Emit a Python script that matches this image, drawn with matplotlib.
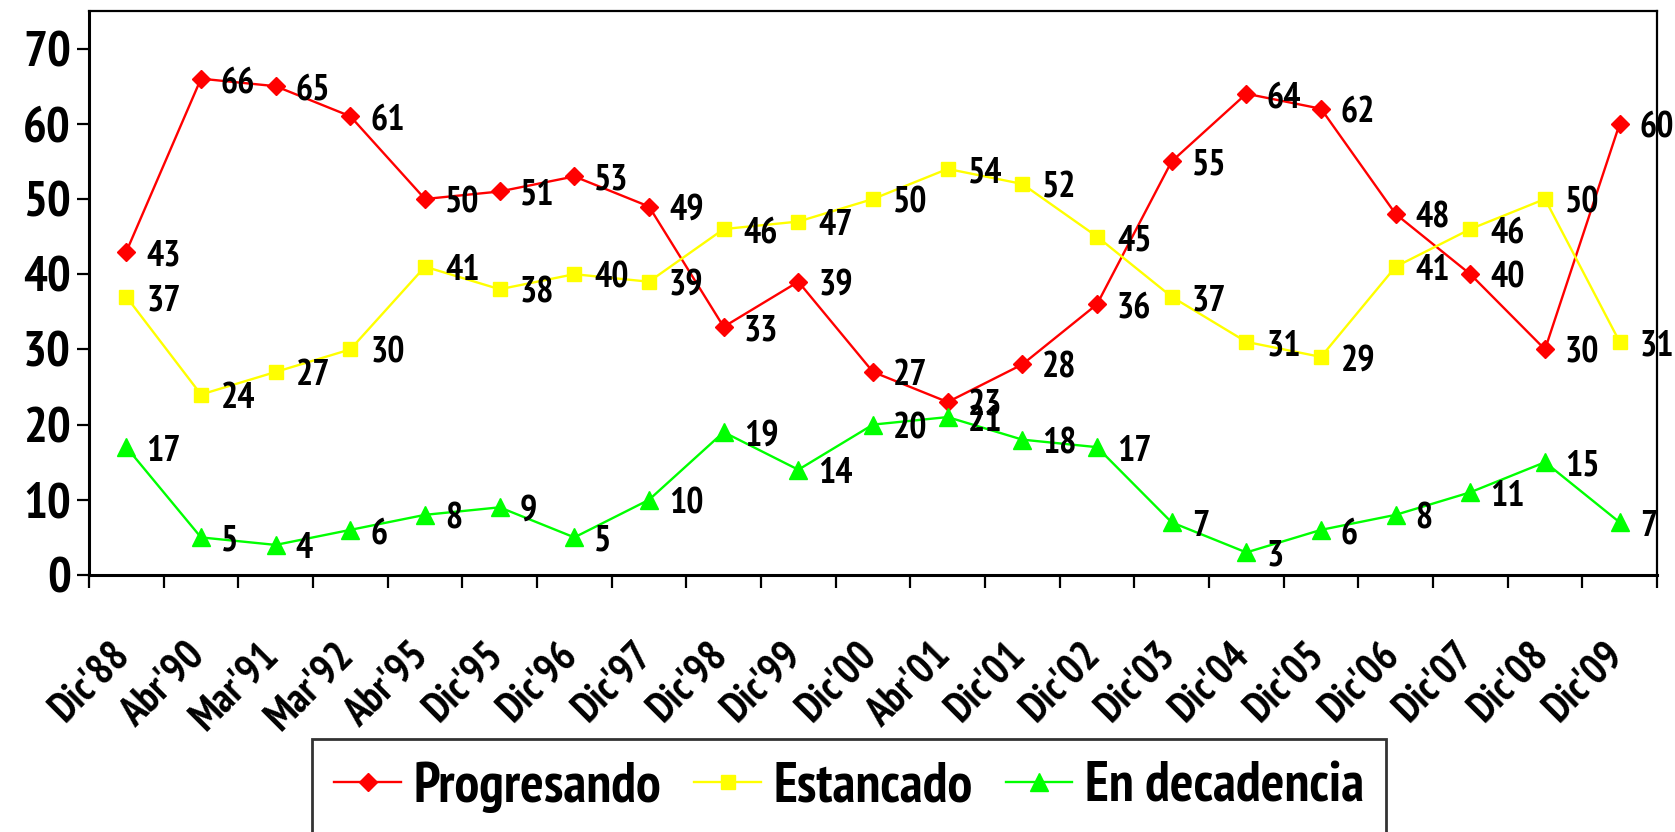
import matplotlib
matplotlib.use("Agg")
import matplotlib.pyplot as plt
from matplotlib import font_manager as fm
from matplotlib.transforms import ScaledTranslation
import numpy as np

categories = ["Dic'88", "Abr'90", "Mar'91", "Mar'92", "Abr'95", "Dic'95", "Dic'96",
              "Dic'97", "Dic'98", "Dic'99", "Dic'00", "Abr'01", "Dic'01", "Dic'02",
              "Dic'03", "Dic'04", "Dic'05", "Dic'06", "Dic'07", "Dic'08", "Dic'09"]
progresando = [43, 66, 65, 61, 50, 51, 53, 49, 33, 39, 27, 23, 28, 36, 55, 64, 62, 48, 40, 30, 60]
estancado = [37, 24, 27, 30, 41, 38, 40, 39, 46, 47, 50, 54, 52, 45, 37, 31, 29, 41, 46, 50, 31]
decadencia = [17, 5, 4, 6, 8, 9, 5, 10, 19, 14, 20, 21, 18, 17, 7, 3, 6, 8, 11, 15, 7]
yticks = [0, 10, 20, 30, 40, 50, 60, 70]


def _w(f):
    w = f.weight
    if isinstance(w, str):
        return {'bold': 700, 'heavy': 800, 'black': 900, 'semibold': 600,
                'demibold': 600, 'extra bold': 800}.get(w, 400)
    return w


bold_names = {f.name for f in fm.fontManager.ttflist if f.style == 'normal' and 650 <= _w(f) <= 750}
fam = 'Liberation Sans'
for cand in ["Liberation Sans Narrow", "Arial Narrow", "PT Sans Narrow", "Pragati Narrow",
             "Archivo Narrow", "Roboto Condensed", "IBM Plex Sans Condensed",
             "Fira Sans Condensed", "Encode Sans Condensed", "Asap Condensed",
             "Barlow Semi Condensed", "Sofia Sans Condensed"]:
    if cand in bold_names:
        fam = cand
        break
plt.rcParams['font.family'] = [fam, 'Liberation Sans', 'DejaVu Sans']
plt.rcParams['font.weight'] = 'bold'

W, H = 1675, 832
fig = plt.figure(figsize=(W / 100, H / 100), dpi=100)
ax = fig.add_axes([89 / W, 1 - 575 / H, (1657 - 89) / W, (575 - 11) / H])

x = np.arange(len(categories))
series = [
    ("Progresando", progresando, "#FF0000", "D", 9),
    ("Estancado", estancado, "#FFFF00", "s", 9.5),
    ("En decadencia", decadencia, "#00FF00", "^", 12.5),
]
for name, vals, col, mk, ms in series:
    ax.plot(x, vals, color=col, marker=mk, markersize=ms, linewidth=1.7,
            markeredgecolor=col, label=name, clip_on=False, zorder=3)
    for xi, v in zip(x, vals):
        ax.annotate(str(v), (xi, v), xytext=(20, -4), textcoords='offset pixels',
                    ha='left', va='center', fontsize=26, fontweight='bold',
                    color='black', zorder=4)

ax.set_xlim(-0.5, len(categories) - 0.5)
ax.set_ylim(0, 75)
ax.set_yticks(yticks)
ax.set_yticklabels([str(t) for t in yticks], fontsize=36, fontweight='bold')
ax.tick_params(axis='y', direction='out', length=9, width=1.6, pad=4)

ax.set_xticks(x)
ax.set_xticklabels(categories, rotation=45, ha='right', va='top', rotation_mode='anchor',
                   fontsize=30, fontweight='bold')
ax.tick_params(axis='x', which='major', length=0, pad=44)
shift = ScaledTranslation(-16 / 100, 0, fig.dpi_scale_trans)
for lab in ax.get_xticklabels():
    lab.set_transform(lab.get_transform() + shift)
ax.set_xticks(np.arange(-0.5, len(categories), 1.0), minor=True)
ax.tick_params(axis='x', which='minor', direction='out', length=9, width=1.6)

for s in ['top', 'right']:
    ax.spines[s].set_linewidth(1.6)
for s in ['left', 'bottom']:
    ax.spines[s].set_linewidth(2.2)

leg = fig.legend(loc='upper left', bbox_to_anchor=(312 / W, 1 - 739 / H),
                 ncol=3, frameon=True, fancybox=False,
                 edgecolor='black', borderaxespad=0, borderpad=0.4,
                 handlelength=1.2, handletextpad=0.22, columnspacing=0.6,
                 prop={'size': 40, 'weight': 'bold'})
leg.get_frame().set_linewidth(2)

fig.savefig("out.png", dpi=100)
